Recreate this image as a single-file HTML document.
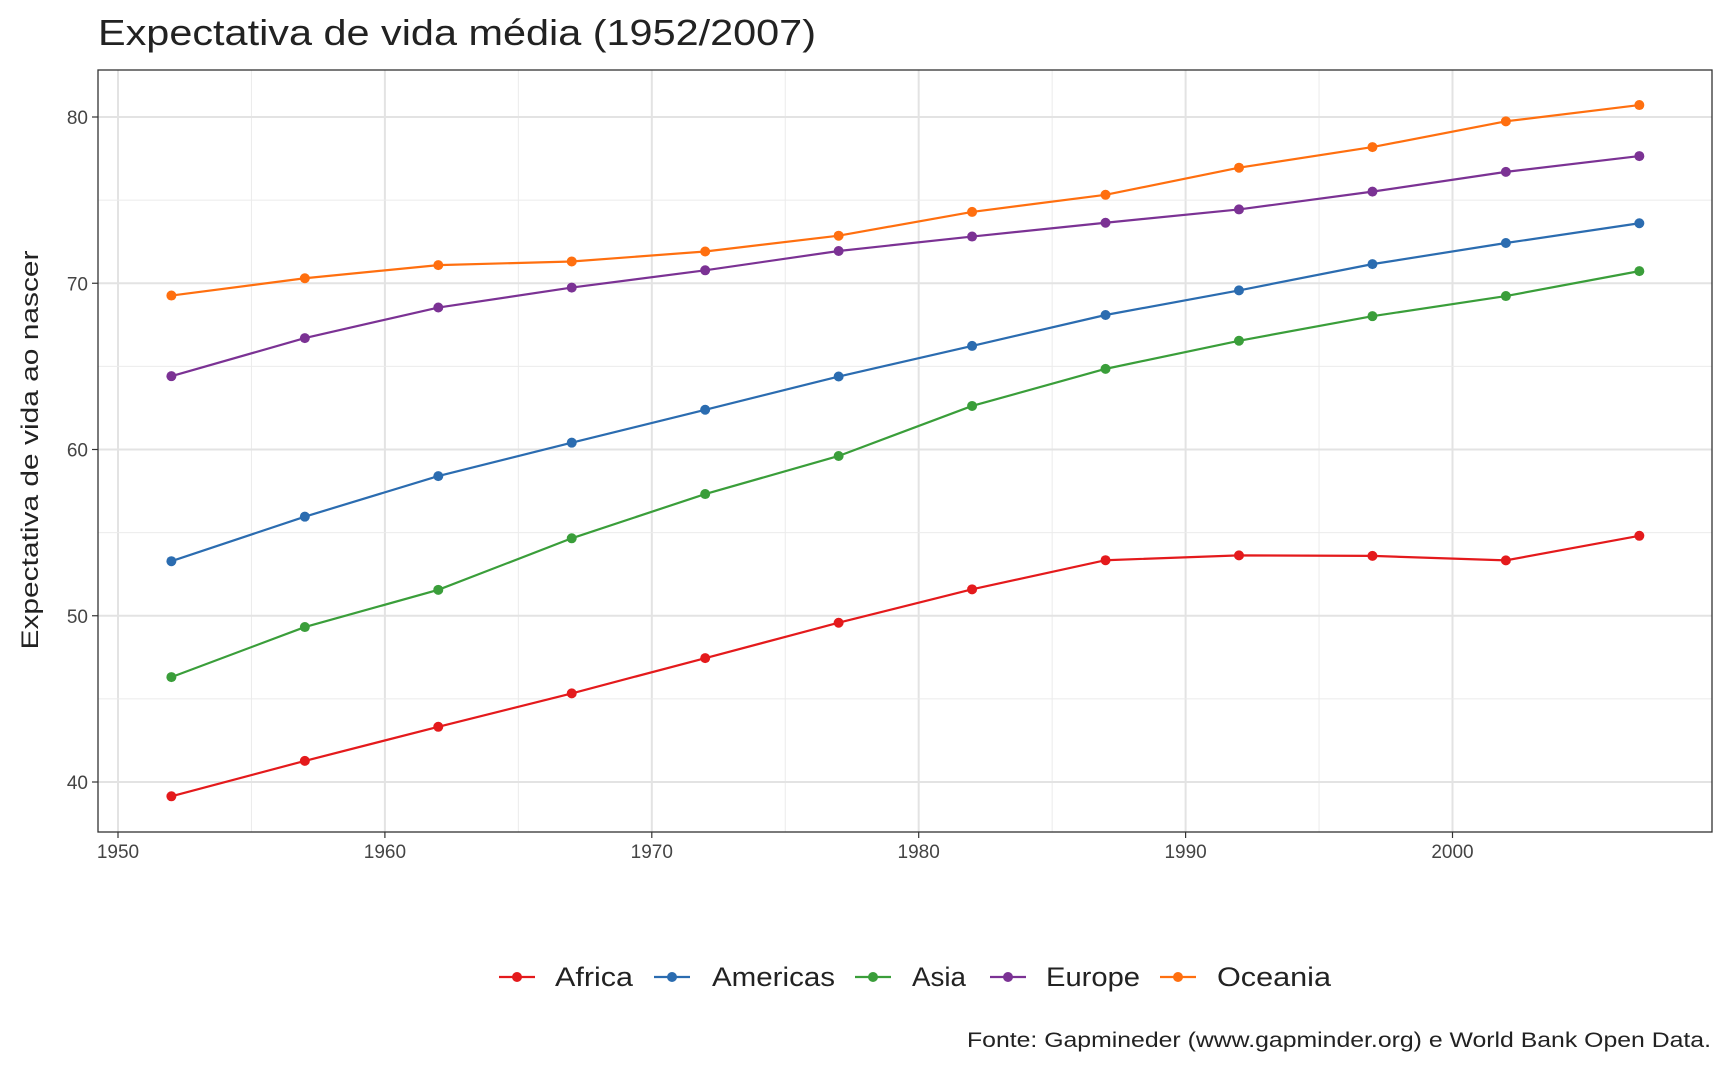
<!DOCTYPE html>
<html><head><meta charset="utf-8"><style>
html,body{margin:0;padding:0;background:#fff;}
svg text{font-family:"Liberation Sans",sans-serif;}
</style></head><body>
<svg id="chart" width="1728" height="1067" xmlns="http://www.w3.org/2000/svg">
<rect width="1728" height="1067" fill="#fff"/>
<text x="98" y="45" font-size="36" fill="#222" textLength="718" lengthAdjust="spacingAndGlyphs">Expectativa de vida média (1952/2007)</text>
<g id="grid"></g>
<g id="series"></g>
<rect x="98" y="70" width="1614" height="762" fill="none" stroke="#333" stroke-width="1.3"/>
<text transform="translate(38,450) rotate(-90)" text-anchor="middle" font-size="24" fill="#222" textLength="399" lengthAdjust="spacingAndGlyphs">Expectativa de vida ao nascer</text>
<g id="legend"></g>
<text x="1711" y="1047" text-anchor="end" font-size="21" fill="#222" textLength="744" lengthAdjust="spacingAndGlyphs">Fonte: Gapmineder (www.gapminder.org) e World Bank Open Data.</text>
</svg>
<script>
const years=[1952,1957,1962,1967,1972,1977,1982,1987,1992,1997,2002,2007];
const continents=["Africa","Americas","Asia","Europe","Oceania"];
const colors=["#E41A1C","#2B6CB0","#3A9E3A","#7B3294","#FF6F0F"];
const africa=[39.14,41.27,43.32,45.33,47.45,49.58,51.59,53.34,53.63,53.60,53.33,54.81];
const americas=[53.28,55.96,58.40,60.41,62.39,64.39,66.23,68.09,69.57,71.15,72.42,73.61];
const asia=[46.31,49.32,51.56,54.66,57.32,59.61,62.62,64.85,66.54,68.02,69.23,70.73];
const europe=[64.41,66.70,68.54,69.74,70.78,71.94,72.81,73.64,74.44,75.51,76.70,77.65];
const oceania=[69.26,70.30,71.09,71.31,71.91,72.86,74.29,75.32,76.95,78.19,79.74,80.72];
const xTicks=[1950,1960,1970,1980,1990,2000];
const yTicks=[40,50,60,70,80];
const seriesData=[africa,americas,asia,europe,oceania];
const NS="http://www.w3.org/2000/svg";
const X0=98,X1=1712,Y0=70,Y1=832;
const x=v=>118+(v-1950)*(1452.5-118)/50;
const y=v=>117+(80-v)*(782-117)/40;
function mk(tag,attrs,parent){const e=document.createElementNS(NS,tag);for(const k in attrs)e.setAttribute(k,attrs[k]);parent.appendChild(e);return e;}
const grid=document.getElementById('grid');
for(let i=0;i<xTicks.length;i++){
  const t=xTicks[i];
  if(i<xTicks.length-1){const m=mk('line',{x1:x(t+5),x2:x(t+5),y1:Y0,y2:Y1,stroke:'#EBEBEB','stroke-width':1},grid);
  
  }
  const g=mk('line',{x1:x(t),x2:x(t),y1:Y0,y2:Y1,stroke:'#E3E3E3','stroke-width':2},grid);
  
  
  const tk=mk('line',{x1:x(t),x2:x(t),y1:Y1,y2:Y1+6,stroke:'#333','stroke-width':1.2},grid);
  
  
  const lb=mk('text',{x:x(t),y:Y1+26,'text-anchor':'middle','font-size':19,fill:'#444'},grid);
  lb.textContent=t;
  
  
}
for(let i=0;i<yTicks.length;i++){
  const t=yTicks[i];
  if(i<yTicks.length-1){const m=mk('line',{x1:X0,x2:X1,y1:y(t+5),y2:y(t+5),stroke:'#EBEBEB','stroke-width':1},grid);
  
  }
  const g=mk('line',{x1:X0,x2:X1,y1:y(t),y2:y(t),stroke:'#E3E3E3','stroke-width':2},grid);
  
  
  const tk=mk('line',{x1:X0-6,x2:X0,y1:y(t),y2:y(t),stroke:'#333','stroke-width':1.2},grid);
  
  
  const lb=mk('text',{x:X0-10,y:y(t)+7,'text-anchor':'end','font-size':19,fill:'#444'},grid);
  lb.textContent=t;
  
  
}
const sg=document.getElementById('series');
seriesData.forEach((vals,si)=>{
  const pts=vals.map((v,i)=>x(years[i])+','+y(v)).join(' ');
  const pl=mk('polyline',{points:pts,fill:'none',stroke:colors[si],'stroke-width':2.2},sg);
  
  
  vals.forEach((v,i)=>{
    const c=mk('circle',{cx:x(years[i]),cy:y(v),r:5,fill:colors[si]},sg);
    
    
  });
});
const lg=document.getElementById('legend');
const lx=[499,654,855,990,1160];
const tx=[555,712,912,1046,1217];
const tw=[78,123,54,94,114];
continents.forEach((c,i)=>{
  const g=mk('g',{},lg);
  
  
  mk('line',{x1:lx[i],x2:lx[i]+36,y1:977,y2:977,stroke:colors[i],'stroke-width':2.2},g);
  mk('circle',{cx:lx[i]+18,cy:977,r:5,fill:colors[i]},g);
  const t=mk('text',{x:tx[i],y:986,'font-size':27,fill:'#222',textLength:tw[i],lengthAdjust:'spacingAndGlyphs'},g);
  t.textContent=c;
});
</script>
</body></html>
